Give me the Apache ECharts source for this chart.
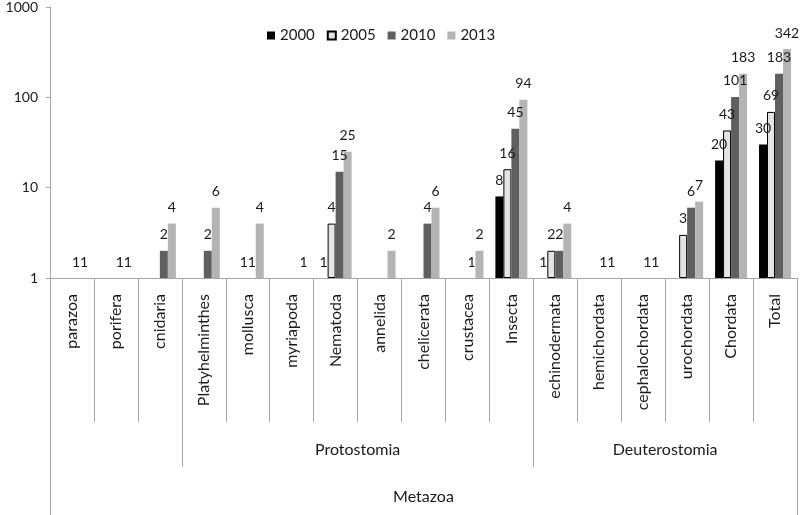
<!DOCTYPE html>
<html><head><meta charset="utf-8">
<script src="https://cdn.jsdelivr.net/npm/echarts@6/dist/echarts.min.js"></script>
<style>html,body{margin:0;padding:0;background:#fff}#c{width:800px;height:515px}</style>
</head><body><div id="c"></div>
<script>
const categories = ['parazoa','porifera','cnidaria','Platyhelminthes','mollusca','myriapoda','Nematoda','annelida','chelicerata','crustacea','Insecta','echinodermata','hemichordata','cephalochordata','urochordata','Chordata','Total'];
const years = ['2000','2005','2010','2013'];
const s2000 = [null,null,null,null,null,null,1,null,null,null,8,1,null,null,null,20,30];
const s2005 = [null,null,null,null,1,null,4,null,null,null,16,2,null,null,3,43,69];
const s2010 = [1,1,2,2,1,null,15,null,4,1,45,2,1,1,6,101,183];
const s2013 = [1,1,4,6,4,1,25,2,6,2,94,4,1,1,7,183,342];
const groups2 = [{name:'Protostomia', from:3, to:11},{name:'Deuterostomia', from:11, to:17}];
const groups3 = [{name:'Metazoa', from:0, to:17}];

const FONT = 'Lato';
const TXT = '#1a1a1a';
const chart = echarts.init(document.getElementById('c'), null, {renderer:'canvas'});
const styles = [
  {color:'#000000'},
  {color:'#e4e4e4', borderColor:'#000000', borderWidth:1},
  {color:'#5f5f5f'},
  {color:'#b4b4b4'}
];
const dataSets = [s2000, s2005, s2010, s2013];
const series = years.map((y,i)=>({
  name:y, type:'bar', barWidth:8, barGap:'0%',
  data: dataSets[i].map(v=> v==null ? '-' : (v===1 ? {value:v, itemStyle:{borderWidth:0}} : v)),
  itemStyle: styles[i],
  label:{show:true, position:'top', distance:9, color:TXT, fontSize:14, fontFamily:FONT}
}));
chart.setOption({
  animation:false,
  textStyle:{fontFamily:FONT},
  legend:{top:23, left:262, data:years, icon:'rect', itemWidth:8, itemHeight:8, itemGap:12,
    textStyle:{fontSize:15, color:TXT, fontFamily:FONT}},
  grid:{left:50, right:3, top:5, bottom:237, containLabel:false},
  xAxis:{type:'category', data:categories,
    axisLine:{lineStyle:{color:'#a6a6a6'}},
    axisTick:{show:true, length:144, interval:0, lineStyle:{color:'#a6a6a6'}},
    axisLabel:{interval:0, rotate:90, margin:16, color:TXT, fontSize:16, fontFamily:FONT}},
  yAxis:{type:'log', logBase:10, min:1, max:1000,
    axisLine:{show:true, lineStyle:{color:'#a6a6a6'}},
    axisTick:{show:true, length:4, lineStyle:{color:'#a6a6a6'}}, splitLine:{show:false},
    axisLabel:{margin:12, color:TXT, fontSize:14, fontFamily:FONT, formatter:v=>String(v)}},
  series
});
function bx(idx){
  const c0 = chart.convertToPixel({xAxisIndex:0}, categories[0]);
  const c1 = chart.convertToPixel({xAxisIndex:0}, categories[1]);
  const bw = c1 - c0;
  return c0 - bw/2 + idx*bw;
}
const y0 = chart.convertToPixel({yAxisIndex:0}, 1);
const H = 515;
const lineStyle = {stroke:'#a6a6a6', lineWidth:1};
const els = [];
[0,17].forEach(i=>{ const x=Math.round(bx(i))+0.5; els.push({type:'line', shape:{x1:x,y1:y0,x2:x,y2:H}, style:lineStyle}); });
[3,11].forEach(i=>{ const x=Math.round(bx(i))+0.5; els.push({type:'line', shape:{x1:x,y1:y0,x2:x,y2:y0+189}, style:lineStyle}); });
groups2.forEach(g=>{
  els.push({type:'text', x:(bx(g.from)+bx(g.to))/2, y:y0+172, style:{text:g.name, fill:TXT, font:'16px '+FONT, align:'center', verticalAlign:'middle'}});
});
groups3.forEach(g=>{
  els.push({type:'text', x:(bx(g.from)+bx(g.to))/2, y:y0+219, style:{text:g.name, fill:TXT, font:'16px '+FONT, align:'center', verticalAlign:'middle'}});
});
chart.setOption({graphic:{elements:els}});
</script></body></html>
